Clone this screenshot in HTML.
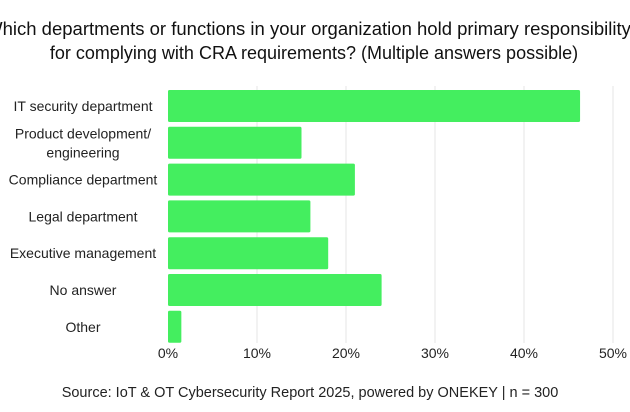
<!DOCTYPE html>
<html><head><meta charset="utf-8"><style>
body{margin:0;background:#fff;}
svg{display:block;font-family:"Liberation Sans",sans-serif;}
</style></head><body>
<svg width="630" height="412" viewBox="0 0 630 412">
<text x="308" y="35" text-anchor="middle" font-size="18.5" fill="#111">Which departments or functions in your organization hold primary responsibility</text>
<text x="314" y="59" text-anchor="middle" font-size="18" fill="#111">for complying with CRA requirements? (Multiple answers possible)</text>
<g id="grid"></g><g id="bars"></g><g id="labels"></g><g id="ticks"></g>
<text x="310" y="397" text-anchor="middle" font-size="14.5" fill="#222">Source: IoT &amp; OT Cybersecurity Report 2025, powered by ONEKEY | n = 300</text>
</svg>
<script>
const categories=[["IT security department"],["Product development/","engineering"],["Compliance department"],["Legal department"],["Executive management"],["No answer"],["Other"]];
const values=[46.3,15,21,16,18,24,1.5];
const tickValues=[0,10,20,30,40,50];
const tickLabels=["0%","10%","20%","30%","40%","50%"];
const NS="http://www.w3.org/2000/svg";
const x=v=>168+v*8.9;
const y=i=>90+i*36.8;
const bh=32;
function mk(t,a,p){const e=document.createElementNS(NS,t);for(const k in a)e.setAttribute(k,a[k]);document.getElementById(p).appendChild(e);return e;}
tickValues.forEach((v,i)=>{
  if(i>0){const g=mk('line',{x1:x(v),x2:x(v),y1:86,y2:343,stroke:'#e4e4e4','stroke-width':1},'grid');
  
  }
  const t=mk('text',{x:x(v),y:358,'text-anchor':'middle','font-size':14,fill:'#222'},'ticks');
  t.textContent=tickLabels[i];
  
  
});
values.forEach((v,i)=>{
  const r=mk('rect',{x:x(0),y:y(i),width:x(v)-x(0),height:bh,rx:1.5,fill:'#44ee5f'},'bars');
  
  
  const lines=categories[i];
  const cy=y(i)+bh/2;
  lines.forEach((s,j)=>{
    const t=mk('text',{x:83,y:cy+5+(j-(lines.length-1)/2)*19,'text-anchor':'middle','font-size':14,fill:'#222'},'labels');
    t.textContent=s;
    
    
  });
});
</script>
</body></html>
